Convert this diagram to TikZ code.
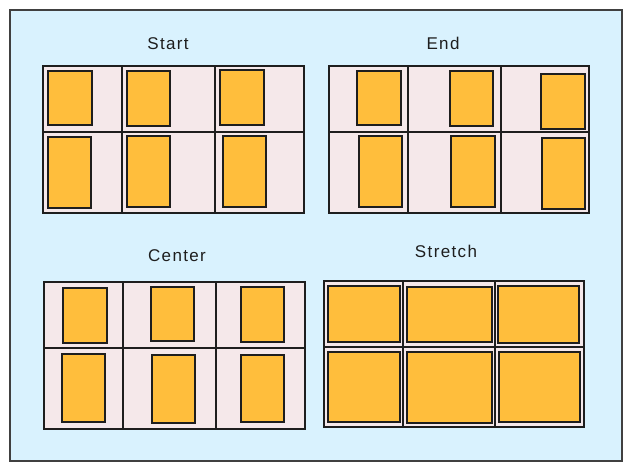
\documentclass[tikz,border=0pt]{standalone}
\usepackage{fontspec}
\setmainfont{Liberation Sans}
\newfontfamily\capfont[LetterSpace=8]{Liberation Sans}
\definecolor{bgblue}{RGB}{217,242,254}
\definecolor{cellpink}{RGB}{245,232,234}
\definecolor{itemorange}{RGB}{255,190,60}
\definecolor{ink}{RGB}{30,30,30}
\tikzset{
  outerframe/.style={draw=ink!85, fill=bgblue, line width=1.4pt},
  gridframe/.style={draw=ink, fill=cellpink, line width=1.1pt},
  gridline/.style={draw=ink, line width=1.1pt},
  itembox/.style={draw=ink, fill=itemorange, line width=1.1pt},
  caption/.style={font=\capfont\fontsize{17}{19}\selectfont, text=ink}
}
\begin{document}
\begin{tikzpicture}[x=1pt,y=-1pt]
\useasboundingbox (0,0) rectangle (632,471);
\draw[outerframe] (10,10) rectangle (622,461);

% Start
\node[caption] (tStart) at (168,44) {Start};
\draw[gridframe] (43,66) rectangle (304,213);
\draw[gridline] (122,66) -- (122,213) (215,66) -- (215,213) (43,132) -- (304,132);
\draw[itembox] (48,71) rectangle (92,125);
\draw[itembox] (127,71) rectangle (170,126);
\draw[itembox] (220,70) rectangle (264,125);
\draw[itembox] (48,137) rectangle (91,208);
\draw[itembox] (127,136) rectangle (170,207);
\draw[itembox] (223,136) rectangle (266,207);

% End
\node[caption] (tEnd) at (443,43) {End};
\draw[gridframe] (329,66) rectangle (589,213);
\draw[gridline] (408,66) -- (408,213) (501,66) -- (501,213) (329,132) -- (589,132);
\draw[itembox] (357,71) rectangle (401,125);
\draw[itembox] (450,71) rectangle (493,126);
\draw[itembox] (541,74) rectangle (585,129);
\draw[itembox] (359,136) rectangle (402,207);
\draw[itembox] (451,136) rectangle (495,207);
\draw[itembox] (542,138) rectangle (585,209);

% Center
\node[caption] (tCenter) at (177,256) {Center};
\draw[gridframe] (44,282) rectangle (305,429);
\draw[gridline] (123,282) -- (123,429) (216,282) -- (216,429) (44,348) -- (305,348);
\draw[itembox] (63,288) rectangle (107,343);
\draw[itembox] (151,287) rectangle (194,341);
\draw[itembox] (241,287) rectangle (284,342);
\draw[itembox] (62,354) rectangle (105,422);
\draw[itembox] (152,355) rectangle (195,423);
\draw[itembox] (241,355) rectangle (284,422);

% Stretch
\node[caption] (tStretch) at (446,251) {Stretch};
\draw[gridframe] (324,281) rectangle (584,427);
\draw[gridline] (403,281) -- (403,427) (495,281) -- (495,427) (324,347) -- (584,347);
\draw[itembox] (328,286) rectangle (400,342);
\draw[itembox] (407,287) rectangle (492,342);
\draw[itembox] (498,286) rectangle (579,343);
\draw[itembox] (328,352) rectangle (400,422);
\draw[itembox] (407,352) rectangle (492,423);
\draw[itembox] (499,352) rectangle (580,422);
\end{tikzpicture}
\end{document}
